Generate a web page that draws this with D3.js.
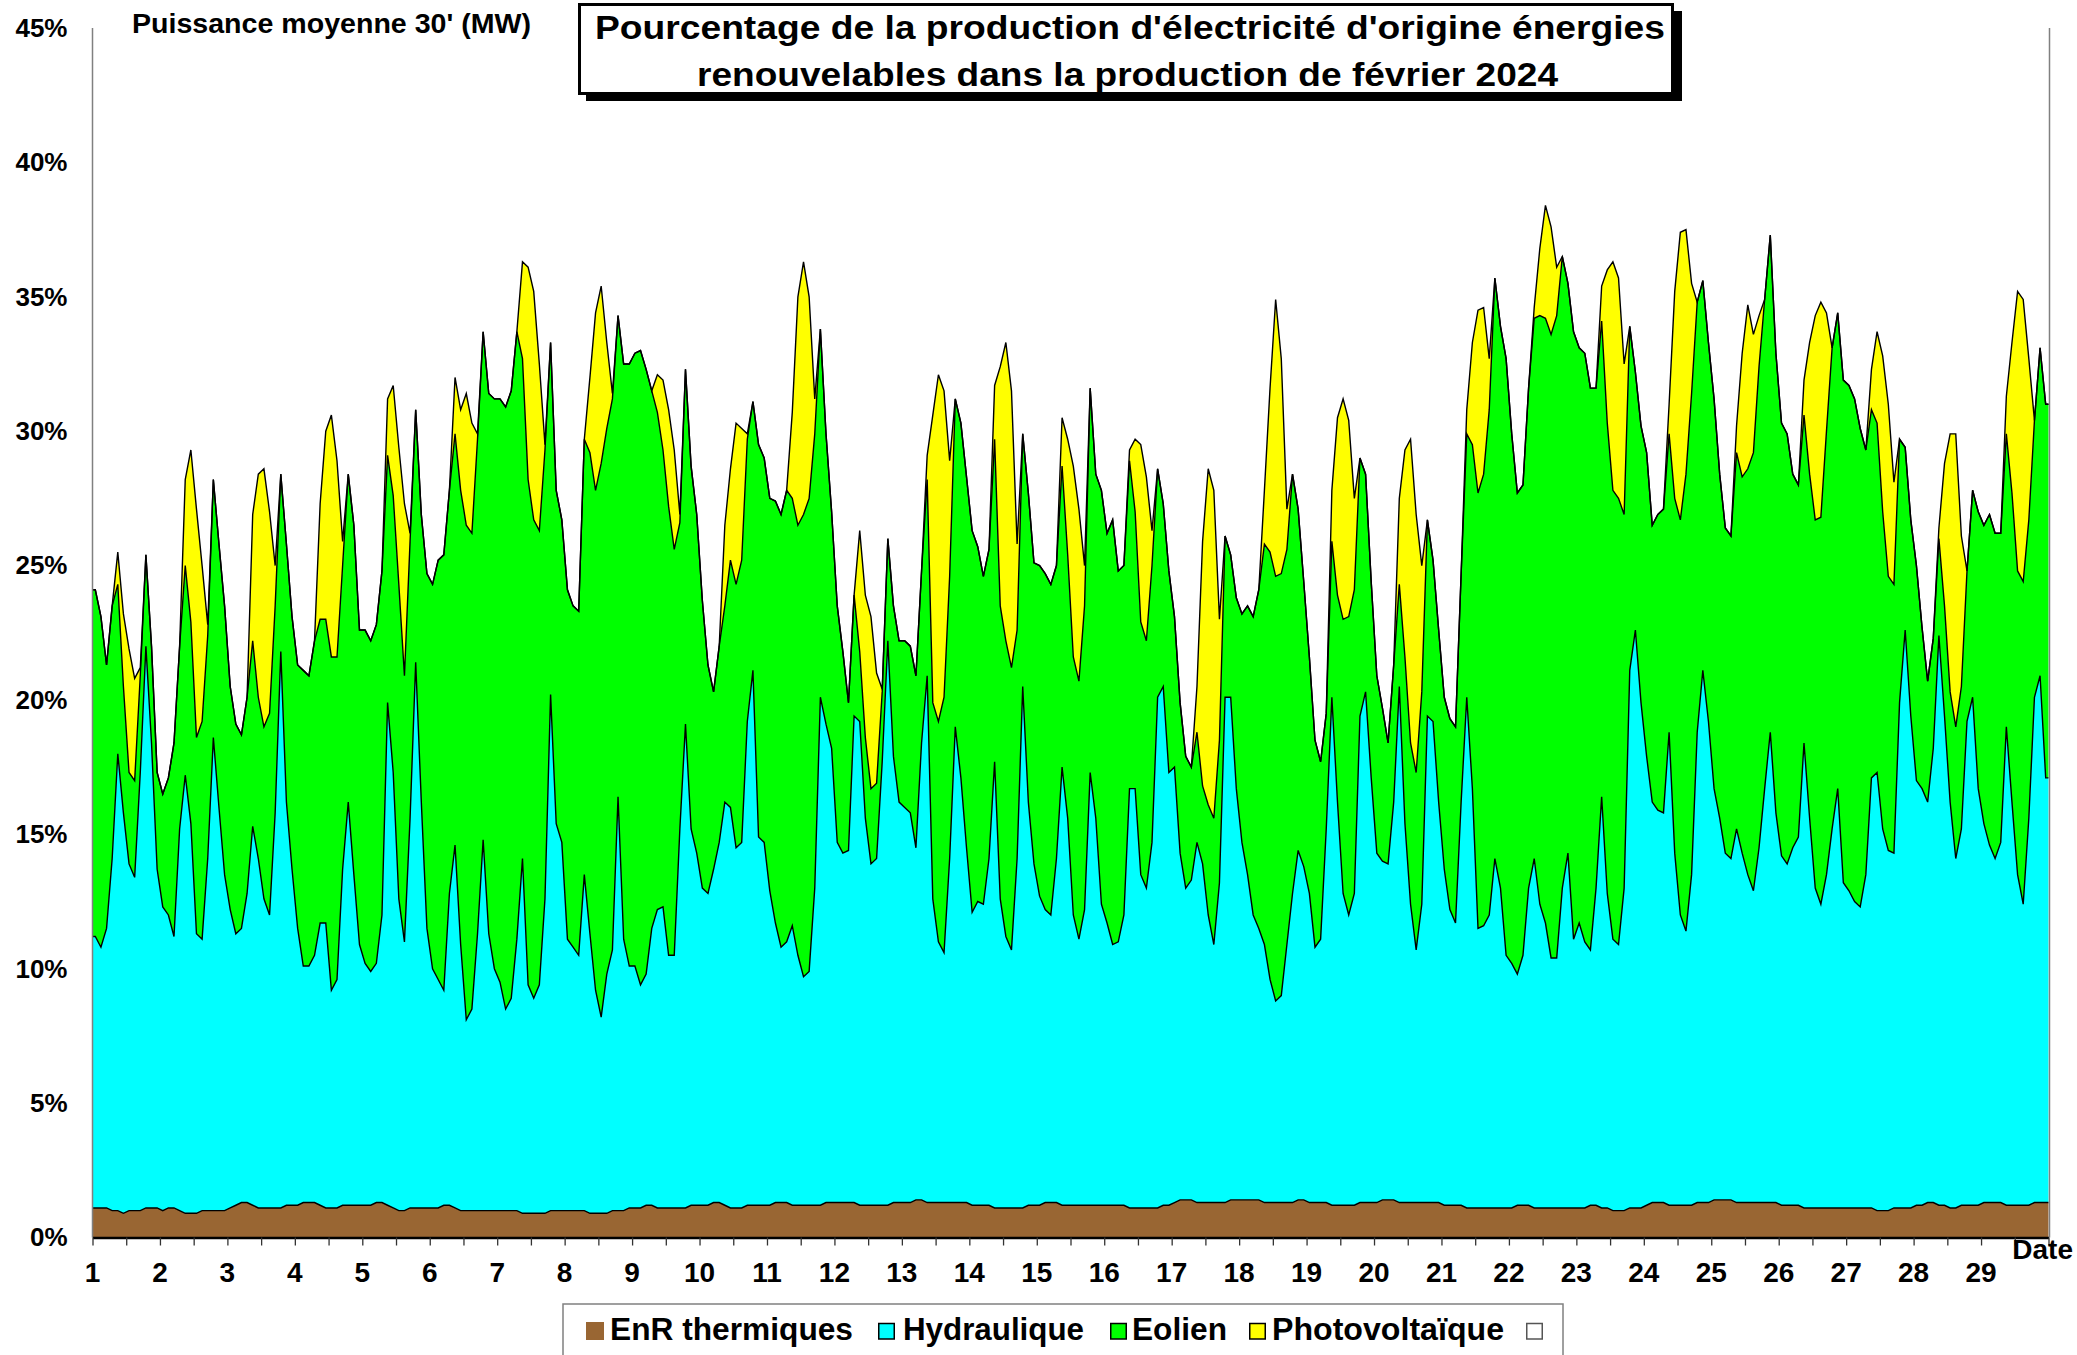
<!DOCTYPE html>
<html>
<head>
<meta charset="utf-8">
<script src="https://cdn.jsdelivr.net/npm/d3@7"></script>
<style>
  body { margin: 0; background: #fff; }
  svg text { font-family: Arial, "Liberation Sans", sans-serif; font-weight: bold; fill: #000; }
</style>
</head>
<body>
<svg id="chart" width="2077" height="1355"></svg>
<script>
// tick labels (days of February 2024) and sampling hours within a day
const days = d3.range(1, 30);
const hours = [1, 3, 5, 7, 9, 11, 13, 15, 17, 19, 21, 23];
const yTicks = [0, 5, 10, 15, 20, 25, 30, 35, 40, 45];

// share of total production (%), one line per day, every 2 hours
const thermique = [
  1.1,1.1,1.1,1.0,1.0,0.9,1.0,1.0,1.0,1.1,1.1,1.1,
  1.0,1.1,1.1,1.0,0.9,0.9,0.9,1.0,1.0,1.0,1.0,1.0,
  1.1,1.2,1.3,1.3,1.2,1.1,1.1,1.1,1.1,1.1,1.2,1.2,
  1.2,1.3,1.3,1.3,1.2,1.1,1.1,1.1,1.2,1.2,1.2,1.2,
  1.2,1.2,1.3,1.3,1.2,1.1,1.0,1.0,1.1,1.1,1.1,1.1,
  1.1,1.1,1.2,1.2,1.1,1.0,1.0,1.0,1.0,1.0,1.0,1.0,
  1.0,1.0,1.0,1.0,0.9,0.9,0.9,0.9,0.9,1.0,1.0,1.0,
  1.0,1.0,1.0,1.0,0.9,0.9,0.9,0.9,1.0,1.0,1.0,1.1,
  1.1,1.1,1.2,1.2,1.1,1.1,1.1,1.1,1.1,1.1,1.2,1.2,
  1.2,1.2,1.3,1.3,1.2,1.1,1.1,1.1,1.2,1.2,1.2,1.2,
  1.2,1.3,1.3,1.3,1.2,1.2,1.2,1.2,1.2,1.2,1.3,1.3,
  1.3,1.3,1.3,1.3,1.2,1.2,1.2,1.2,1.2,1.2,1.3,1.3,
  1.3,1.3,1.4,1.4,1.3,1.3,1.3,1.3,1.3,1.3,1.3,1.3,
  1.2,1.2,1.2,1.2,1.1,1.1,1.1,1.1,1.1,1.1,1.2,1.2,
  1.2,1.3,1.3,1.3,1.2,1.2,1.2,1.2,1.2,1.2,1.2,1.2,
  1.2,1.2,1.2,1.2,1.1,1.1,1.1,1.1,1.1,1.1,1.2,1.2,
  1.3,1.4,1.4,1.4,1.3,1.3,1.3,1.3,1.3,1.3,1.4,1.4,
  1.4,1.4,1.4,1.4,1.3,1.3,1.3,1.3,1.3,1.3,1.4,1.4,
  1.3,1.3,1.3,1.3,1.2,1.2,1.2,1.2,1.2,1.3,1.3,1.3,
  1.3,1.4,1.4,1.4,1.3,1.3,1.3,1.3,1.3,1.3,1.3,1.3,
  1.2,1.2,1.2,1.2,1.1,1.1,1.1,1.1,1.1,1.1,1.1,1.1,
  1.1,1.2,1.2,1.2,1.1,1.1,1.1,1.1,1.1,1.1,1.1,1.1,
  1.1,1.1,1.2,1.2,1.1,1.1,1.0,1.0,1.0,1.1,1.1,1.1,
  1.2,1.3,1.3,1.3,1.2,1.2,1.2,1.2,1.2,1.3,1.3,1.3,
  1.4,1.4,1.4,1.4,1.3,1.3,1.3,1.3,1.3,1.3,1.3,1.3,
  1.2,1.2,1.2,1.2,1.1,1.1,1.1,1.1,1.1,1.1,1.1,1.1,
  1.1,1.1,1.1,1.1,1.1,1.0,1.0,1.0,1.1,1.1,1.1,1.1,
  1.2,1.2,1.3,1.3,1.2,1.2,1.1,1.1,1.2,1.2,1.2,1.2,
  1.3,1.3,1.3,1.3,1.2,1.2,1.2,1.2,1.2,1.3,1.3,1.3
];

const hydraulique = [
  10.1,9.7,10.4,13.1,17.0,14.9,12.9,12.4,16.3,20.9,17.3,12.6,
  11.3,10.9,10.1,14.2,16.3,14.5,10.4,10.1,13.1,17.6,15.0,12.5,
  11.1,10.1,10.2,11.5,14.1,13.0,11.5,10.9,14.7,20.7,15.0,12.5,
  10.3,8.8,8.8,9.2,10.5,10.6,8.1,8.5,12.5,15.0,12.3,9.7,
  9.0,8.7,8.9,10.7,18.7,16.2,11.6,10.0,14.5,20.3,15.1,10.4,
  8.9,8.5,8.0,11.6,13.5,9.9,7.1,7.5,10.3,13.8,10.3,9.0,
  8.5,7.5,7.9,10.1,13.2,8.5,8.0,8.5,11.7,19.2,14.4,13.7,
  10.1,9.8,9.5,12.5,10.4,8.3,7.3,8.9,9.7,15.4,10.1,9.0,
  9.0,8.3,8.6,10.3,11.1,11.2,9.4,9.4,14.1,18.0,14.0,13.1,
  11.8,11.6,12.4,13.4,15.0,14.9,13.4,13.6,18.0,19.9,13.7,13.5,
  11.7,10.4,9.5,9.7,10.4,9.3,8.5,8.7,11.8,18.9,17.8,16.9,
  13.4,13.0,13.1,18.1,18.0,14.4,12.7,12.9,16.5,21.0,16.6,14.9,
  14.7,14.5,13.1,17.0,19.6,11.3,9.7,9.3,12.8,17.7,15.8,13.2,
  10.9,11.3,11.2,12.9,16.6,11.5,10.1,9.6,13.0,19.4,15.0,12.7,
  11.5,10.9,10.7,12.8,16.3,14.4,10.8,9.9,11.0,16.1,14.4,11.2,
  10.5,9.7,9.8,10.8,15.6,15.6,12.4,11.9,13.6,19.0,19.3,16.1,
  16.2,12.9,11.6,11.9,13.4,12.6,10.7,9.6,11.9,18.8,18.7,15.3,
  13.3,12.1,10.6,10.1,9.6,8.3,7.5,7.7,9.6,11.5,13.0,12.4,
  11.5,9.5,9.8,13.9,18.9,15.0,11.6,10.8,11.6,18.1,19.0,15.8,
  13.0,12.6,12.5,14.8,19.2,14.1,11.1,9.4,11.1,18.1,17.9,14.9,
  12.5,11.0,10.5,15.0,19.0,15.6,10.4,10.5,10.9,13.0,11.9,9.4,
  9.1,8.6,9.3,11.8,13.0,11.3,10.6,9.3,9.3,11.9,13.2,10.0,
  10.6,9.9,9.5,11.8,15.3,11.7,10.1,9.9,12.0,20.0,21.5,18.8,
  16.7,14.9,14.6,14.5,17.6,13.1,10.8,10.2,12.3,17.5,19.8,17.9,
  15.3,14.2,12.9,12.7,13.9,13.0,12.2,11.6,13.2,15.4,17.5,14.5,
  13.0,12.7,13.3,13.7,17.3,14.5,11.9,11.3,12.4,14.1,15.6,12.1,
  11.8,11.4,11.2,12.4,16.0,16.3,14.2,13.4,13.2,18.8,21.5,18.3,
  15.8,15.5,14.9,16.9,21.2,18.2,15.1,13.0,14.0,18.0,18.9,15.5,
  14.1,13.3,12.8,13.4,17.8,15.0,12.3,11.2,14.4,18.8,19.6,15.8
];

const eolien = [
  12.9,12.3,9.8,9.4,6.3,4.7,3.4,3.6,3.6,3.4,3.6,3.6,
  4.2,5.1,7.2,6.8,7.8,7.5,7.3,8.1,8.3,9.6,9.8,10.0,
  8.3,7.8,7.2,7.3,6.9,6.0,6.4,7.5,7.7,6.6,9.6,9.4,
  9.8,11.0,10.8,11.7,11.3,11.3,12.4,12.0,11.3,12.2,13.0,11.7,
  12.4,12.3,12.6,12.8,9.2,10.3,11.7,9.9,10.3,9.4,10.7,13.2,
  14.3,15.6,16.2,15.0,15.3,16.9,18.4,17.7,18.4,18.9,20.1,21.2,
  21.7,22.4,22.6,22.6,18.6,18.8,17.8,16.9,16.7,13.1,12.4,12.0,
  13.0,12.7,12.8,16.2,17.9,18.6,20.6,20.3,20.5,17.9,21.4,22.4,
  22.8,23.6,22.5,20.0,18.5,17.0,16.7,15.1,11.4,13.2,13.5,12.6,
  10.7,8.5,6.6,7.3,7.3,9.2,9.8,10.5,10.5,10.0,14.6,14.3,
  14.6,15.7,16.1,16.8,15.9,16.0,17.2,17.6,16.9,13.7,10.8,8.8,
  8.8,7.5,5.5,4.5,2.6,3.0,2.8,2.8,2.6,3.8,5.6,6.0,
  6.2,6.2,6.4,6.4,7.3,7.3,8.2,9.5,10.5,12.2,13.2,13.8,
  14.2,13.2,12.2,11.5,12.0,10.9,11.0,10.5,8.5,9.4,11.5,11.2,
  12.3,12.5,12.3,10.9,11.2,9.8,9.6,9.6,11.3,14.3,12.8,15.4,
  14.5,15.8,13.8,13.0,12.2,10.3,9.4,9.2,10.3,8.5,6.8,7.5,
  5.6,5.6,4.9,4.2,4.1,2.9,4.1,4.7,5.3,6.0,5.3,7.1,
  8.5,10.0,11.1,12.6,14.9,15.9,15.8,15.7,14.7,15.6,12.7,10.6,
  8.8,7.7,6.6,4.3,5.8,7.7,10.2,11.1,11.3,9.6,8.1,7.3,
  6.6,5.7,4.5,5.1,3.8,6.2,6.0,6.6,7.9,7.3,6.0,6.4,
  6.4,7.1,7.3,8.5,9.8,12.8,16.2,16.8,18.8,21.6,20.9,22.2,
  19.7,17.9,17.5,18.6,20.1,21.9,22.5,23.2,23.9,23.5,21.2,22.6,
  21.4,21.9,20.9,18.6,17.7,17.5,16.7,16.6,13.9,12.8,9.6,10.3,
  11.3,10.3,11.0,11.3,11.1,13.2,14.7,17.0,17.9,16.0,14.5,14.1,
  14.5,12.8,12.1,12.0,14.0,14.0,15.1,16.3,17.9,18.2,18.5,17.1,
  16.1,16.0,13.9,13.1,12.2,12.8,13.7,14.4,16.5,17.9,17.7,18.7,
  18.8,18.7,17.8,15.8,13.7,13.0,11.8,10.2,10.0,9.8,6.8,7.3,
  8.0,6.0,4.5,4.1,3.6,4.1,4.1,4.9,5.3,5.6,7.7,10.3,
  11.1,12.3,12.1,11.5,10.9,11.5,11.3,12.0,11.1,10.3,12.2,13.9
];

const photovoltaique = [
  0,0,0,0,1.2,2.7,4.6,3.8,0.3,0,0,0,
  0,0,0,0,3.2,6.4,8.5,5.8,0.4,0,0,0,
  0,0,0,0,4.7,8.3,9.6,7.5,1.5,0,0,0,
  0,0,0,0,4.3,7.0,9.0,7.3,0.9,0,0,0,
  0,0,0,0,2.1,4.1,5.1,6.4,0.3,0,0,0,
  0,0,0,0,2.1,3.0,4.9,4.1,0.2,0,0,0,
  0,0,0,0,3.6,7.9,8.5,6.2,0.2,0,0,0,
  0,0,0,0,2.8,6.6,6.6,3.2,0.2,0,0,0,
  0,0,0,0,1.4,2.6,3.6,3.7,0.3,0,0,0,
  0,0,0,0,3.0,3.4,6.0,4.9,0.2,0,0,0,
  0,0,0,0,3.2,8.5,9.4,7.5,1.3,0,0,0,
  0,0,0,0,4.5,5.3,6.4,4.1,0.1,0,0,0,
  0,0,0,0,0.9,10.7,12.9,11.4,4.3,0,0,0,
  0,0,0,0,2.0,8.9,11.1,10.3,3.2,0,0,0,
  0,0,0,0,1.8,4.3,7.1,6.4,1.5,0,0,0,
  0,0,0,0,0.4,2.7,6.6,6.1,1.3,0,0,0,
  0,0,0,0,1.7,9.1,12.5,12.2,4.5,0,0,0,
  0,0,0,0,2.0,6.1,10.3,8.0,1.5,0,0,0,
  0,0,0,0,1.9,6.6,8.2,7.3,3.4,0,0,0,
  0,0,0,0,3.2,7.7,11.3,9.6,4.7,0,0,0,
  0,0,0,0,0.9,3.8,6.8,6.2,1.9,0,0,0,
  0,0,0,0,0.4,2.5,4.2,4.0,1.8,0,0,0,
  0,0,0,0,1.3,5.7,8.5,8.2,5.6,0,0,0,
  0,0,0,0,1.1,7.7,10.7,9.1,4.1,0,0,0,
  0,0,0,0,1.0,4.6,6.1,4.4,1.9,0,0,0,
  0,0,0,0,1.3,4.9,7.6,8.0,4.4,0,0,0,
  0,0,0,0,1.5,3.4,5.8,6.4,3.8,0,0,0,
  0,0,0,0,0.4,5.3,9.6,10.9,5.6,0,0,0,
  0,0,0,0,1.4,5.6,10.4,10.5,6.0,0,0,0
];

const keys = ['thermique', 'hydraulique', 'eolien', 'photovoltaique'];
const legendLabels = ['EnR thermiques', 'Hydraulique', 'Eolien', 'Photovoltaïque', ''];
const colors = { thermique: '#996633', hydraulique: '#00ffff', eolien: '#00ff00', photovoltaique: '#ffff00' };

//rows for the stack, time in days since 1 February 00:00
const rows = thermique.map((v, i) => ({
  t: Math.floor(i / 12) + hours[i % 12] / 24,
  thermique: v,
  hydraulique: hydraulique[i],
  eolien: eolien[i],
  photovoltaique: photovoltaique[i]
}));
// hold the first and last values out to the month edges
rows.unshift(Object.assign({}, rows[0], { t: 0 }));
rows.push(Object.assign({}, rows[rows.length - 1], { t: 29 }));

const svg = d3.select('#chart');
const x = d3.scaleLinear().domain([0, 29]).range([92.5, 2048.5]);
const y = d3.scaleLinear().domain([0, 45]).range([1237.5, 28]);

const stacked = d3.stack().keys(keys)(rows);

const area = d3.area()
  .x((d) => x(d.data.t))
  .y0((d) => y(d[0]))
  .y1((d) => y(d[1]));

const topLine = d3.line()
  .x((d) => x(d.data.t))
  .y((d) => y(d[1]));

svg.selectAll('path.layer')
  .data(stacked)
  .enter()
  .append('path')
  .attr('class', 'layer')
  .attr('d', area)
  .style('fill', (d) => colors[d.key]);

svg.selectAll('path.edge')
  .data(stacked)
  .enter()
  .append('path')
  .attr('class', 'edge')
  .attr('d', topLine)
  .style('fill', 'none')
  .style('stroke', '#000')
  .style('stroke-width', 1.4);

// frame lines left and right
svg.append('line')
  .attr('x1', x(0)).attr('x2', x(0))
  .attr('y1', y(45)).attr('y2', y(0))
  .style('stroke', '#808080').style('stroke-width', 1.5);
svg.append('line')
  .attr('x1', x(29) + 1).attr('x2', x(29) + 1)
  .attr('y1', y(45)).attr('y2', y(0))
  .style('stroke', '#808080').style('stroke-width', 1.5);

// bottom axis, ticks every half day
const xAxis = d3.axisBottom(x)
  .tickValues(d3.range(0, 29.5, 0.5))
  .tickSize(8)
  .tickSizeOuter(0)
  .tickFormat('');
const gx = svg.append('g')
  .attr('transform', `translate(0,${y(0)})`)
  .call(xAxis);
gx.select('.domain').style('stroke', '#000').style('stroke-width', 2.5);
gx.selectAll('.tick line').style('stroke', '#333').style('stroke-width', 1.3);

svg.selectAll('text.day')
  .data(days)
  .enter()
  .append('text')
  .attr('class', 'day')
  .attr('x', (d) => x(d - 1))
  .attr('y', 1282)
  .attr('text-anchor', 'middle')
  .style('font-size', '28px')
  .text((d) => d);

svg.append('text')
  .attr('x', 2073).attr('y', 1259)
  .attr('text-anchor', 'end')
  .style('font-size', '28px')
  .text('Date');

// y labels
const yAxis = d3.axisLeft(y)
  .tickValues(yTicks)
  .tickSize(0)
  .tickPadding(25)
  .tickFormat((d) => d + '%');
const gy = svg.append('g')
  .attr('transform', `translate(${x(0)},0)`)
  .call(yAxis);
gy.select('.domain').remove();
gy.selectAll('text')
  .style('font-size', '26px')
  .style('font-family', 'Arial, "Liberation Sans", sans-serif')
  .style('font-weight', 'bold')
  .style('fill', '#000');

svg.append('text')
  .attr('x', 132).attr('y', 33)
  .attr('textLength', 399).attr('lengthAdjust', 'spacingAndGlyphs')
  .style('font-size', '27px')
  .text("Puissance moyenne 30' (MW)");

// title box with shadow
svg.append('rect')
  .attr('x', 586).attr('y', 11).attr('width', 1096).attr('height', 90)
  .style('fill', '#000');
svg.append('rect')
  .attr('x', 579.5).attr('y', 4.5).attr('width', 1093).attr('height', 89)
  .style('fill', '#fff').style('stroke', '#000').style('stroke-width', 3);
svg.append('text')
  .attr('x', 595).attr('y', 39)
  .attr('textLength', 1070).attr('lengthAdjust', 'spacingAndGlyphs')
  .style('font-size', '34px')
  .text("Pourcentage de la production d'électricité d'origine énergies");
svg.append('text')
  .attr('x', 697).attr('y', 86)
  .attr('textLength', 861).attr('lengthAdjust', 'spacingAndGlyphs')
  .style('font-size', '34px')
  .text('renouvelables dans la production de février 2024');

// legend
svg.append('rect')
  .attr('x', 563).attr('y', 1304).attr('width', 1000).attr('height', 70)
  .style('fill', '#fff').style('stroke', '#808080').style('stroke-width', 1.5);

const swatchX = [586, 878, 1110, 1249, 1526];
const labelX = [610, 903, 1132, 1272, 0];
const labelW = [243, 181, 95, 232, 0];
const legendFill = [colors.thermique, colors.hydraulique, colors.eolien, colors.photovoltaique, '#fff'];

const items = svg.selectAll('g.legend')
  .data(legendLabels)
  .enter()
  .append('g')
  .attr('class', 'legend');

items.append('rect')
  .attr('x', (d, i) => swatchX[i] + (i === 0 ? 0 : 0.75))
  .attr('y', (d, i) => (i === 0 ? 1322 : 1323.5))
  .attr('width', (d, i) => (i === 0 ? 18 : 15.5))
  .attr('height', (d, i) => (i === 0 ? 18 : 15.5))
  .style('fill', (d, i) => legendFill[i])
  .style('stroke', (d, i) => (i === 0 ? 'none' : i === 4 ? '#555' : '#000'))
  .style('stroke-width', 1.5);

items.filter((d) => d !== '')
  .append('text')
  .attr('x', (d, i) => labelX[i])
  .attr('y', 1340)
  .attr('textLength', (d, i) => labelW[i])
  .attr('lengthAdjust', 'spacingAndGlyphs')
  .style('font-size', '31px')
  .text((d) => d);
</script>
</body>
</html>
